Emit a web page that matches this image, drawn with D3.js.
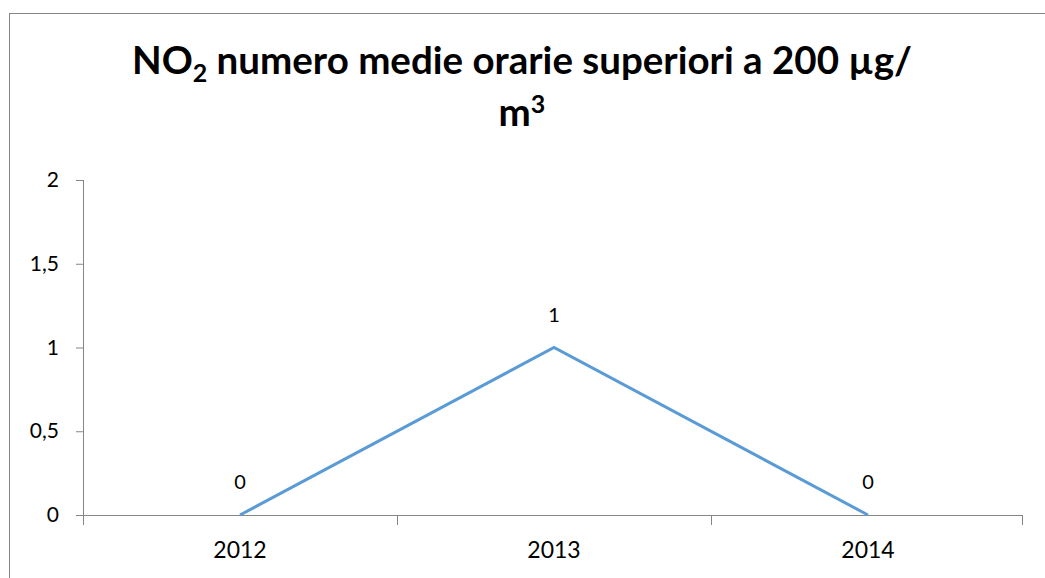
<!DOCTYPE html>
<html>
<head>
<meta charset="utf-8">
<script src="https://cdn.jsdelivr.net/npm/d3@7"></script>
<style>
  body { margin: 0; background: #fff; }
  svg text { font-family: Lato, "Open Sans", sans-serif; }
</style>
</head>
<body>
<div id="chart"></div>
<script>
"use strict";

const years = ["2012", "2013", "2014"];
const values = [0, 1, 0];
const yTicks = [0, 0.5, 1, 1.5, 2];

function drawChart() {
  const W = 1045, H = 578;
  const margin = { top: 180, right: 20, bottom: 63, left: 83 };
  const width = 1025 - margin.left,
    height = 515 - margin.top;

  const svg = d3.select("#chart").append("svg")
    .attr("width", W).attr("height", H);

  // chart frame
  svg.append("rect")
    .attr("x", 9.5).attr("y", 13.5)
    .attr("width", W).attr("height", H)
    .attr("fill", "#fff")
    .attr("stroke", "#868686").attr("stroke-width", 1);

  // title
  const title = svg.append("text")
    .attr("text-anchor", "middle")
    .attr("font-size", 38.5)
    .attr("font-weight", "bold")
    .attr("fill", "#000");
  const l1 = title.append("tspan").attr("x", 522).attr("y", 74);
  l1.append("tspan").text("NO");
  l1.append("tspan").attr("font-size", 25).attr("dy", 8).text("2");
  l1.append("tspan").attr("dy", -8).text(" numero medie orarie superiori a 200 µg/");
  const l2 = title.append("tspan").attr("x", 522).attr("y", 126);
  l2.append("tspan").text("m");
  l2.append("tspan").attr("font-size", 25).attr("dy", -13).text("3");

  const g = svg.append("g")
    .attr("transform", "translate(" + margin.left + "," + margin.top + ")");

  const x = d3.scaleBand().domain(years).range([0, width]);
  const y = d3.scaleLinear().domain([0, 2]).range([height, 0]);

  const fmt = d => String(d).replace(".", ",");

  const yAxis = g.append("g")
    .call(d3.axisLeft(y).tickValues(yTicks).tickFormat(fmt).tickSize(7).tickPadding(17));
  yAxis.select(".domain").attr("stroke", "#868686").attr("d", "M0.5,0V" + (height + 9));
  yAxis.selectAll(".tick line").attr("stroke", "#868686");
  yAxis.selectAll(".tick text").attr("font-size", 21).attr("fill", "#000")
    .attr("font-family", null);

  const xAxis = g.append("g")
    .attr("transform", "translate(0," + height + ")")
    .call(d3.axisBottom(x).tickSize(0).tickPadding(27));
  xAxis.select(".domain").attr("stroke", "#868686").attr("d", "M-7,0.5H" + (width - 3));
  xAxis.selectAll(".tick text").attr("font-size", 23).attr("fill", "#000")
    .attr("font-family", null);

  // category boundary ticks
  const bounds = years.map(d => x(d)).concat([width - 3]);
  g.selectAll(".xb").data(bounds).enter().append("line")
    .attr("x1", d => d + 0.5).attr("x2", d => d + 0.5)
    .attr("y1", height).attr("y2", height + 10)
    .attr("stroke", "#868686");

  const line = d3.line()
    .x((d, i) => x(years[i]) + x.bandwidth() / 2)
    .y(d => y(d));

  g.append("path")
    .datum(values)
    .attr("d", line)
    .attr("fill", "none")
    .attr("stroke", "#5b9bd5")
    .attr("stroke-width", 3);

  g.selectAll(".lbl").data(values).enter().append("text")
    .attr("x", (d, i) => x(years[i]) + x.bandwidth() / 2)
    .attr("y", d => y(d) - 26)
    .attr("text-anchor", "middle")
    .attr("font-size", 20)
    .attr("fill", "#000")
    .text(d => fmt(d));
}

drawChart();
</script>
</body>
</html>
